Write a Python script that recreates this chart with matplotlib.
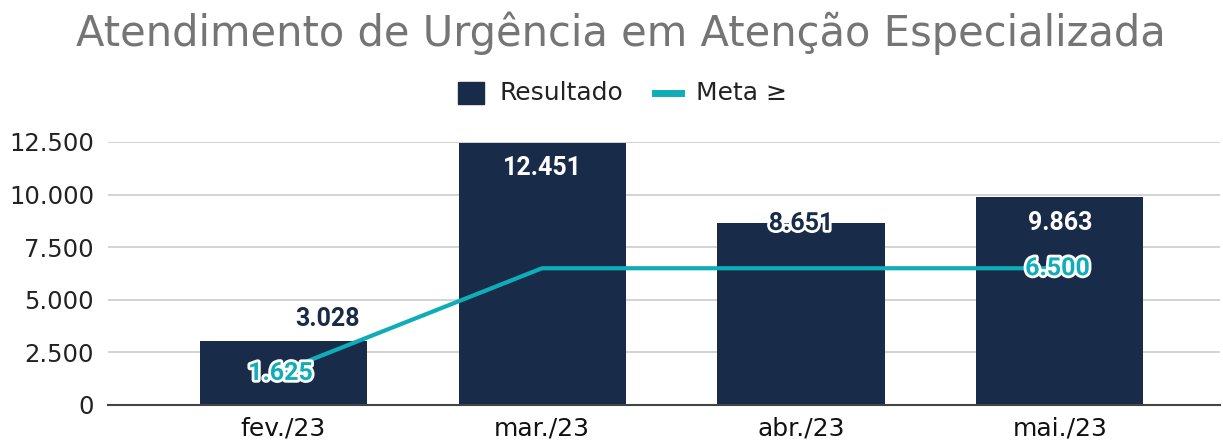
import matplotlib.pyplot as plt
import matplotlib.patheffects as pe

# dados
meses = ["fev./23", "mar./23", "abr./23", "mai./23"]
resultado = [3028, 12451, 8651, 9863]
meta = [1625, 6500, 6500, 6500]
yticks = [0, 2500, 5000, 7500, 10000, 12500]
ytick_labels = ["0", "2.500", "5.000", "7.500", "10.000", "12.500"]

COR_BARRA = "#182b49"
COR_META = "#0fadb8"


def fmt(v):
    return f"{v:,}".replace(",", ".")


fig = plt.figure(figsize=(12.23, 4.46), dpi=100)
ax = fig.add_axes([108 / 1223, 1 - 405 / 446, (1220 - 108) / 1223, (405 - 142) / 446])

x = list(range(len(meses)))
ax.bar(x, resultado, width=0.645, color=COR_BARRA, zorder=2)
ax.plot(x, meta, color=COR_META, linewidth=3, zorder=3)

ax.set_xlim(-0.676, 3.618)
ax.set_ylim(0, 12500)
ax.set_yticks(yticks)
ax.set_yticklabels(ytick_labels, fontsize=17.5, family="DejaVu Sans", color="#222222")
ax.set_xticks(x)
ax.set_xticklabels(meses, fontsize=18, family="DejaVu Sans", color="#111111")
ax.tick_params(axis="y", length=0, pad=10)
ax.tick_params(axis="x", length=0, pad=8)
ax.grid(axis="y", color="#cccccc", linewidth=1.2, zorder=0)
for s in ["top", "right", "left"]:
    ax.spines[s].set_visible(False)
ax.spines["bottom"].set_color("#444444")
ax.spines["bottom"].set_linewidth(1.5)
ax.spines["bottom"].set_zorder(4)

# rótulos do resultado
contorno = [pe.withStroke(linewidth=4, foreground="white")]
for i, v in enumerate(resultado):
    if i == 0:
        ax.text(i + 0.17, v + 500, fmt(v), ha="center", va="bottom", fontsize=18,
                fontweight="bold", family="Roboto", color=COR_BARRA, zorder=5)
    elif i == 2:
        ax.text(i, v, fmt(v), ha="center", va="center", fontsize=18, fontweight="bold",
                family="Roboto", color=COR_BARRA, path_effects=contorno, zorder=5)
    else:
        ax.text(i, v - 1200, fmt(v), ha="center", va="center", fontsize=18,
                fontweight="bold", family="Roboto", color="white", zorder=5)

# rótulos da meta
for i in [0, 3]:
    ax.text(i - 0.01, meta[i] - 100 if i == 0 else meta[i], fmt(meta[i]), ha="center",
            va="center", fontsize=18, fontweight="bold", family="Roboto", color=COR_META,
            path_effects=contorno, zorder=6)

fig.text(0.508, 0.925, "Atendimento de Urgência em Atenção Especializada", ha="center",
         va="center", fontsize=30, color="#757575", family="DejaVu Sans")

# legenda
fig.patches.append(plt.Rectangle((458 / 1223, 1 - 104 / 446), 26 / 1223, 22 / 446,
                                 transform=fig.transFigure, color=COR_BARRA))
fig.text(499 / 1223, 1 - 93 / 446, "Resultado", va="center", fontsize=18,
         family="DejaVu Sans", color="#222222")
fig.lines.append(plt.Line2D([655 / 1223, 681 / 1223], [1 - 93 / 446] * 2,
                            transform=fig.transFigure, color=COR_META, linewidth=5))
fig.text(696 / 1223, 1 - 93 / 446, "Meta ≥", va="center", fontsize=18,
         family="DejaVu Sans", color="#222222")

fig.savefig("out.png", dpi=100)
